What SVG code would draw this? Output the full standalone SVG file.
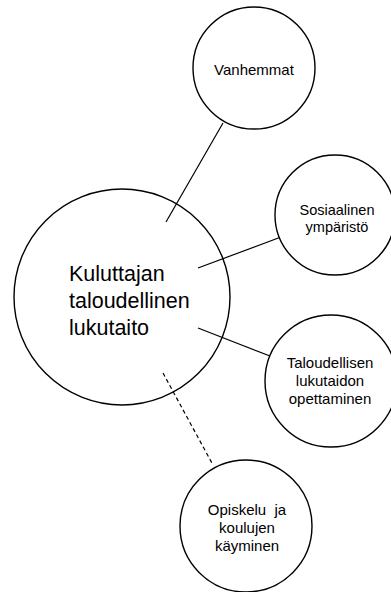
<svg xmlns="http://www.w3.org/2000/svg" width="391" height="592" viewBox="0 0 391 592">
<style>
.n{fill:#fff;stroke:#000;stroke-width:1.4}
.c{stroke:#000;stroke-width:1.2;fill:none}
.d{stroke-dasharray:4,3}
.t{font-family:"Liberation Sans",Arial,sans-serif;font-size:15px;fill:#000;text-anchor:middle}
.big{font-family:"Liberation Sans",Arial,sans-serif;font-size:21.5px;fill:#000}
</style>
<rect width="391" height="592" fill="#fff"/>
<g id="main"><circle class="n" cx="122" cy="297" r="108"/>
<text class="big" x="69" y="281">Kuluttajan</text>
<text class="big" x="69" y="308">taloudellinen</text>
<text class="big" x="69" y="335">lukutaito</text></g>
<g id="connectors">
<line class="c" x1="223" y1="123" x2="166" y2="222"/>
<line class="c" x1="281" y1="237" x2="198" y2="268"/>
<line class="c" x1="198" y1="328" x2="270" y2="356"/>
<line class="c d" x1="163" y1="373" x2="213" y2="465"/>
</g>
<g id="vanhemmat"><circle class="n" cx="254" cy="68" r="61"/>
<text class="t" x="254" y="75">Vanhemmat</text></g>
<g id="sosiaalinen"><circle class="n" cx="335" cy="215" r="60"/>
<text class="t" x="337" y="215" style="font-size:14.5px">Sosiaalinen</text>
<text class="t" x="337" y="232" style="font-size:14.5px">ympäristö</text></g>
<g id="taloudellisen"><circle class="n" cx="331" cy="381" r="66"/>
<text class="t" x="330" y="368">Taloudellisen</text>
<text class="t" x="330" y="386">lukutaidon</text>
<text class="t" x="330" y="404">opettaminen</text></g>
<g id="opiskelu"><circle class="n" cx="246" cy="526" r="66"/>
<text class="t" x="247" y="515" xml:space="preserve">Opiskelu  ja</text>
<text class="t" x="247" y="533">koulujen</text>
<text class="t" x="247" y="551">käyminen</text></g>
</svg>
